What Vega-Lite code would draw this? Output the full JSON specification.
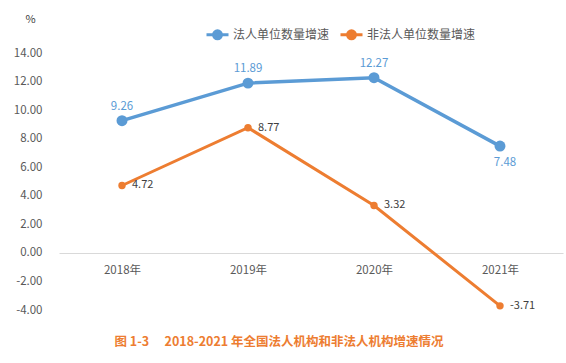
{
  "$schema": "https://vega.github.io/schema/vega-lite/v6.json",
  "autosize": "none",
  "width": 504,
  "height": 257,
  "padding": {"left": 59, "top": 53, "right": 3, "bottom": 53},
  "background": "white",
  "config": {
    "font": "Noto Sans CJK SC",
    "view": {"stroke": null},
    "locale": {"number": {"decimal": ".", "thousands": ",", "grouping": [3], "currency": ["$", ""], "minus": "-"}}
  },
  "title": {
    "text": "图 1-3\u3000 2018-2021 年全国法人机构和非法人机构增速情况",
    "orient": "bottom",
    "anchor": "middle",
    "color": "#ED7D31",
    "fontSize": 12.5,
    "fontWeight": "bold",
    "offset": 20,
    "dx": -32
  },
  "data": {
    "values": [
      {"year": "2018年", "series": "法人单位数量增速", "value": 9.26},
      {"year": "2019年", "series": "法人单位数量增速", "value": 11.89},
      {"year": "2020年", "series": "法人单位数量增速", "value": 12.27},
      {"year": "2021年", "series": "法人单位数量增速", "value": 7.48},
      {"year": "2018年", "series": "非法人单位数量增速", "value": 4.72},
      {"year": "2019年", "series": "非法人单位数量增速", "value": 8.77},
      {"year": "2020年", "series": "非法人单位数量增速", "value": 3.32},
      {"year": "2021年", "series": "非法人单位数量增速", "value": -3.71}
    ]
  },
  "encoding": {
    "x": {
      "field": "year",
      "type": "ordinal",
      "scale": {"paddingInner": 0, "paddingOuter": 0.5},
      "axis": {
        "title": null,
        "labelAngle": 0,
        "offset": -57,
        "domainColor": "#D9D9D9",
        "domainWidth": 1,
        "ticks": false,
        "labelPadding": 11,
        "labelFontSize": 11.5,
        "labelColor": "#595959"
      }
    },
    "y": {
      "field": "value",
      "type": "quantitative",
      "scale": {"domain": [-4, 14], "nice": false, "zero": false},
      "axis": {
        "values": [-4, -2, 0, 2, 4, 6, 8, 10, 12, 14],
        "format": ".2f",
        "grid": false,
        "domain": false,
        "ticks": false,
        "labelPadding": 17,
        "labelFontSize": 11.5,
        "labelColor": "#595959",
        "title": "%",
        "titleAngle": 0,
        "titleX": -29,
        "titleY": -34,
        "titleAlign": "center",
        "titleBaseline": "middle",
        "titleFontSize": 11,
        "titleFontWeight": "normal",
        "titleColor": "#404040"
      }
    },
    "color": {
      "field": "series",
      "type": "nominal",
      "scale": {"domain": ["法人单位数量增速", "非法人单位数量增速"], "range": ["#5B9BD5", "#ED7D31"]},
      "legend": {
        "title": null,
        "orient": "none",
        "direction": "horizontal",
        "legendX": 146,
        "legendY": -31,
        "symbolType": "M -1 0 L 1 0 M -0.36 0 A 0.36 0.36 0 1 1 0.36 0 A 0.36 0.36 0 1 1 -0.36 0 Z",
        "symbolSize": 484,
        "symbolStrokeWidth": 3,
        "labelFontSize": 12,
        "labelColor": "#595959",
        "labelOffset": 3,
        "columnPadding": 4
      }
    }
  },
  "layer": [
    {
      "transform": [{"filter": "datum.series === '法人单位数量增速'"}],
      "mark": {"type": "line", "strokeWidth": 3.5}
    },
    {
      "transform": [{"filter": "datum.series === '非法人单位数量增速'"}],
      "mark": {"type": "line", "strokeWidth": 3}
    },
    {
      "transform": [{"filter": "datum.series === '法人单位数量增速'"}],
      "mark": {"type": "point", "filled": true, "opacity": 1, "size": 120, "shape": "circle"}
    },
    {
      "transform": [{"filter": "datum.series === '非法人单位数量增速'"}],
      "mark": {"type": "point", "filled": true, "opacity": 1, "size": 55, "shape": "circle"}
    },
    {
      "transform": [{"filter": "datum.series === '法人单位数量增速' && datum.year !== '2021年'"}],
      "mark": {"type": "text", "dy": -14, "fontSize": 11.5},
      "encoding": {"text": {"field": "value", "type": "quantitative", "format": ".2f"}, "color": {"value": "#5B9BD5"}}
    },
    {
      "transform": [{"filter": "datum.series === '法人单位数量增速' && datum.year === '2021年'"}],
      "mark": {"type": "text", "dy": 17, "dx": 5, "fontSize": 11.5},
      "encoding": {"text": {"field": "value", "type": "quantitative", "format": ".2f"}, "color": {"value": "#5B9BD5"}}
    },
    {
      "transform": [{"filter": "datum.series === '非法人单位数量增速'"}],
      "mark": {"type": "text", "align": "left", "dx": 10, "fontSize": 11},
      "encoding": {"text": {"field": "value", "type": "quantitative", "format": ".2f"}, "color": {"value": "#404040"}}
    }
  ]
}
